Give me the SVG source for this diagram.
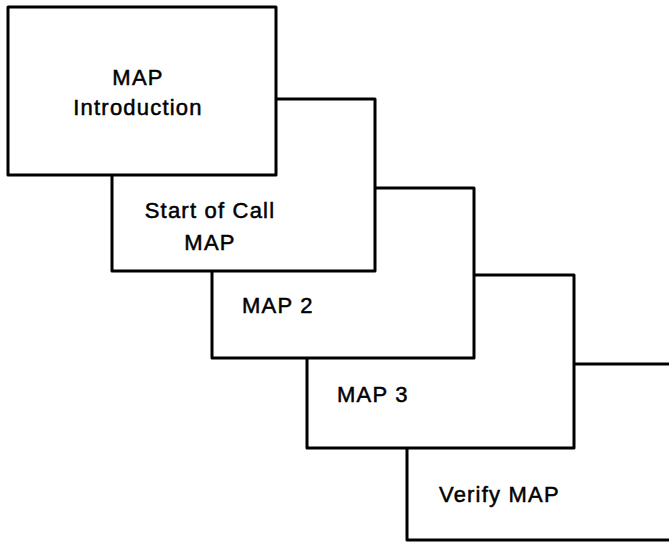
<svg xmlns="http://www.w3.org/2000/svg" width="669" height="544" viewBox="0 0 669 544">
<style>
.box{fill:#fff;stroke:#000;stroke-width:3;stroke-linejoin:round}
.lbl{font-family:"Liberation Sans",Arial,sans-serif;font-size:22px;fill:#000;stroke:#000;stroke-width:0.5;letter-spacing:1.2px}
.c{text-anchor:middle}
</style>
<rect width="669" height="544" fill="#fff"/>
<g id="connectors"></g>
<g id="verify-map">
<rect class="box" x="407" y="364" width="280" height="176"/>
<text class="lbl" x="439" y="502">Verify MAP</text>
</g>
<g id="map3">
<rect class="box" x="307" y="275" width="267" height="173"/>
<text class="lbl" x="337" y="402">MAP 3</text>
</g>
<g id="map2">
<rect class="box" x="212" y="188" width="262" height="170"/>
<text class="lbl" x="242" y="313">MAP 2</text>
</g>
<g id="start-of-call">
<rect class="box" x="112" y="99" width="263" height="172"/>
<text class="lbl c" x="210" y="218">Start of Call</text>
<text class="lbl c" x="210" y="250">MAP</text>
</g>
<g id="map-intro">
<rect class="box" x="8" y="7" width="268" height="168"/>
<text class="lbl c" x="138" y="85">MAP</text>
<text class="lbl c" x="138" y="115">Introduction</text>
</g>
</svg>
